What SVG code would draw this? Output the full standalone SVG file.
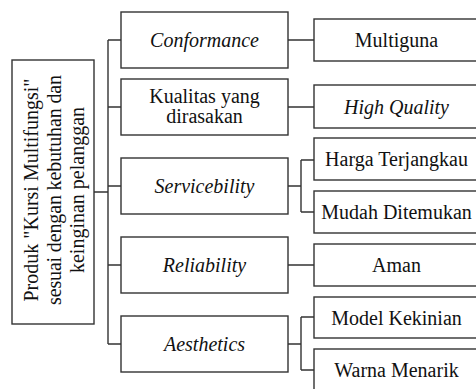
<svg xmlns="http://www.w3.org/2000/svg" width="476" height="389" viewBox="0 0 476 389">
<style>
.box{fill:#fff;stroke:#333;stroke-width:1.4}
.ln{fill:none;stroke:#333;stroke-width:1.4}
text{font-family:"Liberation Serif","Times New Roman",serif;font-size:20px;fill:#111;text-anchor:middle}
.it{font-style:italic}
</style>
<rect width="476" height="389" fill="#fff"/>
<g id="connectors">
<path class="ln" d="M94 192H108M108 40V344M108 40H121M108 107H121M108 186H121M108 265H121M108 344H121"/>
<path class="ln" d="M288 40H314M288 107H314M288 186H301M301 160V212M301 160H314M301 212H314M288 265H314M288 344H301M301 317V370M301 317H314M301 370H314"/>
</g>
<g id="root">
<rect class="box" x="12" y="60" width="82" height="264"/>
<g transform="translate(0,190) rotate(-90)" style="font-size:20.5px">
<text x="0" y="38">Produk "Kursi Multifungsi"</text>
<text x="0" y="61" textLength="230" lengthAdjust="spacing">sesuai dengan kebutuhan dan</text>
<text x="0" y="84">keinginan pelanggan</text>
</g>
</g>
<g id="conformance"><rect class="box" x="121" y="12" width="167" height="56"/><text class="it" x="204.5" y="47">Conformance</text></g>
<g id="kualitas"><rect class="box" x="121" y="79" width="167" height="56"/><text x="204.5" y="103">Kualitas yang</text><text x="204.5" y="123">dirasakan</text></g>
<g id="servicebility"><rect class="box" x="121" y="158" width="167" height="56"/><text class="it" x="204.5" y="193">Servicebility</text></g>
<g id="reliability"><rect class="box" x="121" y="237" width="167" height="56"/><text class="it" x="204.5" y="272">Reliability</text></g>
<g id="aesthetics"><rect class="box" x="121" y="316" width="167" height="56"/><text class="it" x="204.5" y="351">Aesthetics</text></g>
<g id="multiguna"><rect class="box" x="314" y="19" width="166" height="42"/><text x="396.5" y="47">Multiguna</text></g>
<g id="highquality"><rect class="box" x="314" y="85" width="166" height="43"/><text class="it" x="396.5" y="114">High Quality</text></g>
<g id="harga"><rect class="box" x="314" y="138" width="166" height="42"/><text x="396.5" y="166">Harga Terjangkau</text></g>
<g id="mudah"><rect class="box" x="314" y="191" width="166" height="42"/><text x="396.5" y="219">Mudah Ditemukan</text></g>
<g id="aman"><rect class="box" x="314" y="244" width="166" height="42"/><text x="396.5" y="272">Aman</text></g>
<g id="model"><rect class="box" x="314" y="297" width="166" height="41"/><text x="396.5" y="324.5">Model Kekinian</text></g>
<g id="warna"><rect class="box" x="314" y="349" width="166" height="42"/><text x="396.5" y="377">Warna Menarik</text></g>
</svg>
